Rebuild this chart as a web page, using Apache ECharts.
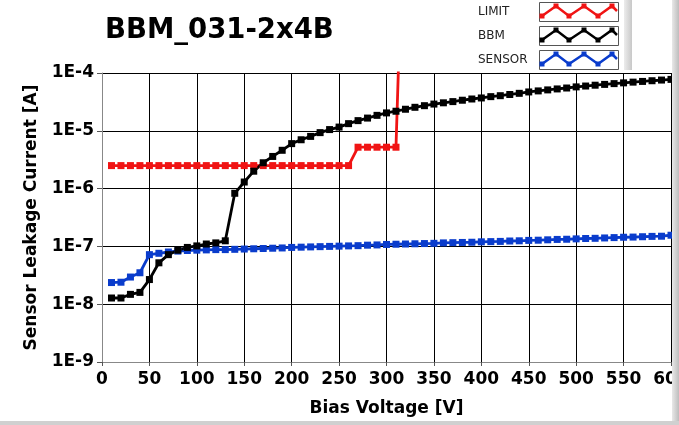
<!DOCTYPE html>
<html>
<head>
<meta charset="utf-8">
<script src="https://cdn.jsdelivr.net/npm/echarts@6/dist/echarts.min.js"></script>
<style>html,body{margin:0;padding:0;background:#fff}#c{width:679px;height:425px}</style>
</head>
<body>
<div id="c"></div>
<script>
const voltage = [10,20,30,40,50,60,70,80,90,100,110,120,130,140,150,160,170,180,190,200,
  210,220,230,240,250,260,270,280,290,300,310,320,330,340,350,360,370,380,390,400,
  410,420,430,440,450,460,470,480,490,500,510,520,530,540,550,560,570,580,590,600];

const bbm = [1.28e-8,1.28e-8,1.48e-8,1.6e-8,2.67e-8,5.2e-8,7.2e-8,8.6e-8,9.6e-8,1.02e-7,
  1.1e-7,1.15e-7,1.25e-7,8.3e-7,1.3e-6,2.0e-6,2.8e-6,3.6e-6,4.6e-6,6.0e-6,
  7.0e-6,8.0e-6,9.3e-6,1.05e-5,1.16e-5,1.33e-5,1.5e-5,1.66e-5,1.85e-5,2.04e-5,
  2.18e-5,2.36e-5,2.55e-5,2.72e-5,2.9e-5,3.05e-5,3.2e-5,3.38e-5,3.55e-5,3.7e-5,
  3.9e-5,4.05e-5,4.25e-5,4.45e-5,4.7e-5,4.9e-5,5.1e-5,5.3e-5,5.5e-5,5.75e-5,
  5.95e-5,6.15e-5,6.35e-5,6.55e-5,6.75e-5,6.95e-5,7.15e-5,7.35e-5,7.55e-5,7.75e-5];

const sensor = [2.37e-8,2.4e-8,2.95e-8,3.5e-8,7.2e-8,7.6e-8,8.0e-8,8.3e-8,8.5e-8,8.6e-8,
  8.7e-8,8.8e-8,8.8e-8,8.9e-8,9.0e-8,9.1e-8,9.2e-8,9.3e-8,9.4e-8,9.6e-8,
  9.7e-8,9.8e-8,9.9e-8,1.0e-7,1.01e-7,1.02e-7,1.03e-7,1.05e-7,1.06e-7,1.08e-7,
  1.09e-7,1.1e-7,1.11e-7,1.12e-7,1.13e-7,1.15e-7,1.16e-7,1.17e-7,1.18e-7,1.2e-7,
  1.21e-7,1.22e-7,1.24e-7,1.25e-7,1.27e-7,1.28e-7,1.3e-7,1.32e-7,1.33e-7,1.35e-7,
  1.37e-7,1.38e-7,1.4e-7,1.42e-7,1.44e-7,1.45e-7,1.47e-7,1.49e-7,1.5e-7,1.56e-7];

const limitVoltage = [10,20,30,40,50,60,70,80,90,100,110,120,130,140,150,160,170,180,190,200,
  210,220,230,240,250,260,270,280,290,300,310,320];
const limit = [2.5e-6,2.5e-6,2.5e-6,2.5e-6,2.5e-6,2.5e-6,2.5e-6,2.5e-6,2.5e-6,2.5e-6,
  2.5e-6,2.5e-6,2.5e-6,2.5e-6,2.5e-6,2.5e-6,2.5e-6,2.5e-6,2.5e-6,2.5e-6,
  2.5e-6,2.5e-6,2.5e-6,2.5e-6,2.5e-6,2.5e-6,5.2e-6,5.2e-6,5.2e-6,5.2e-6,5.2e-6,1];

const xTicks = [0,50,100,150,200,250,300,350,400,450,500,550,600];
const yTickLabels = {'-4':'1E-4','-5':'1E-5','-6':'1E-6','-7':'1E-7','-8':'1E-8','-9':'1E-9'};
const seriesNames = ['LIMIT','BBM','SENSOR'];
const colors = {LIMIT:'#f01414', BBM:'#000000', SENSOR:'#0a3ccc'};

const pairs = (xs, ys) => xs.map((x,i) => [x, ys[i]]);

const FONT = 'DejaVu Sans';
const chart = echarts.init(document.getElementById('c'), null, {renderer:'canvas'});

function legendGraphic() {
  const g = [];
  const tops = [2, 26, 50];
  seriesNames.forEach((name, i) => {
    const t = tops[i];
    g.push({type:'text', left:478, top:t+4, style:{text:name, font:'12px ' + FONT, fill:'#222'}});
    g.push({type:'rect', shape:{x:539.5, y:t+0.5, width:79, height:19}, style:{fill:'#fff', stroke:'#555', lineWidth:1}});
    const pts = [[542,t+14],[556,t+4],[569,t+14],[584,t+4],[598,t+14],[612,t+4],[617,t+9]];
    g.push({type:'polyline', shape:{points:pts}, style:{stroke:colors[name], lineWidth:2.5, fill:null}});
    pts.slice(0,6).forEach(p => g.push({type:'rect', shape:{x:p[0]-2.5, y:p[1]-2.5, width:5, height:5}, style:{fill:colors[name]}}));
  });
  g.push({type:'rect', z:100, shape:{x:624, y:0, width:8, height:70}, style:{fill:new echarts.graphic.LinearGradient(0,0,1,0,[{offset:0,color:'#ececec'},{offset:1,color:'#c8c8c8'}])}});
  g.push({type:'rect', z:100, shape:{x:672, y:0, width:7, height:425}, style:{fill:new echarts.graphic.LinearGradient(0,0,1,0,[{offset:0,color:'#e8e8e8'},{offset:1,color:'#bdbdbd'}])}});
  g.push({type:'rect', z:100, shape:{x:0, y:421, width:679, height:4}, style:{fill:'#d0d0d0'}});
  return g;
}

const symbolStyle = {symbol:'rect', symbolSize:7, showSymbol:true};

chart.setOption({
  animation:false,
  backgroundColor:'#fff',
  title:{text:'BBM_031-2x4B', left:105, top:17, padding:0,
    textStyle:{fontFamily:FONT, fontSize:27.5, fontWeight:'bold', color:'#000'}},
  grid:{left:102, right:8, top:73, bottom:63, containLabel:false, outerBoundsMode:'none'},
  xAxis:{type:'value', min:0, max:600, interval:50,
    name:'Bias Voltage [V]', nameLocation:'middle', nameGap:38,
    nameTextStyle:{fontFamily:FONT, fontSize:17, fontWeight:'bold', color:'#000'},
    axisLine:{show:true, lineStyle:{color:'#888', width:1}},
    axisTick:{show:true, inside:false, length:4, lineStyle:{color:'#555'}},
    axisLabel:{margin:9, fontFamily:FONT, fontSize:17, fontWeight:'bold', color:'#000',
      formatter:v => xTicks.includes(v) ? String(v) : ''},
    splitLine:{show:true, lineStyle:{color:'#000', width:1}}},
  yAxis:{type:'log', logBase:10, min:1e-9, max:1e-4,
    name:'Sensor Leakage Current [A]', nameLocation:'middle', nameGap:62, nameRotate:90,
    nameTextStyle:{fontFamily:FONT, fontSize:17, fontWeight:'bold', color:'#000'},
    axisLine:{show:true, lineStyle:{color:'#888', width:1}},
    axisTick:{show:true, inside:false, length:5, lineStyle:{color:'#555'}},
    axisLabel:{margin:8, fontFamily:FONT, fontSize:17, fontWeight:'bold', color:'#000',
      formatter:v => { const e = Math.round(Math.log10(v)); return yTickLabels[String(e)] || ''; }},
    splitLine:{show:true, lineStyle:{color:'#000', width:1}}},
  series:[
    Object.assign({name:'SENSOR', type:'line', data:pairs(voltage, sensor),
      lineStyle:{color:colors.SENSOR, width:2.8}, itemStyle:{color:colors.SENSOR}, clip:true}, symbolStyle),
    Object.assign({name:'LIMIT', type:'line', data:pairs(limitVoltage, limit),
      lineStyle:{color:colors.LIMIT, width:2.8}, itemStyle:{color:colors.LIMIT}, clip:true}, symbolStyle),
    Object.assign({name:'BBM', type:'line', data:pairs(voltage, bbm),
      lineStyle:{color:colors.BBM, width:2.8}, itemStyle:{color:colors.BBM}, clip:true}, symbolStyle)
  ],
  graphic:legendGraphic()
});
</script>
</body>
</html>
